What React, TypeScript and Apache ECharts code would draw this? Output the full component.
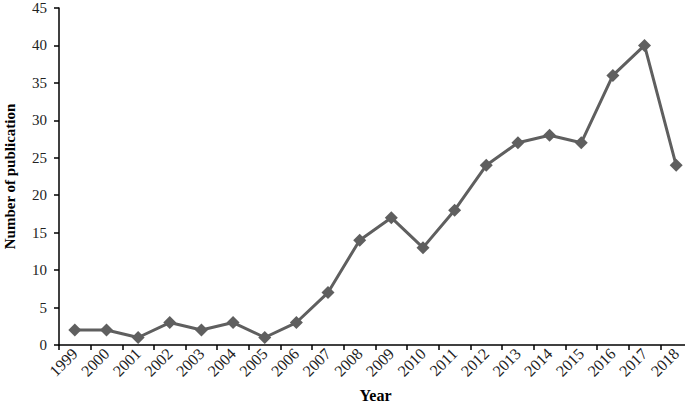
import React, { useEffect, useRef } from "react";
import * as echarts from "echarts";

const years = ["1999","2000","2001","2002","2003","2004","2005","2006","2007","2008","2009","2010","2011","2012","2013","2014","2015","2016","2017","2018"];
const publications = [2, 2, 1, 3, 2, 3, 1, 3, 7, 14, 17, 13, 18, 24, 27, 28, 27, 36, 40, 24];

const serif = "'Liberation Serif', 'DejaVu Serif', serif";

export default function App() {
  const ref = useRef<HTMLDivElement>(null);
  useEffect(() => {
    const chart = echarts.init(ref.current!, null, { renderer: "svg" });
    chart.setOption({
      animation: false,
      grid: { left: 59, right: -7, top: 8, bottom: 61, outerBoundsMode: "none", containLabel: false },
      xAxis: {
        type: "category",
        data: years,
        boundaryGap: true,
        name: "Year",
        nameLocation: "middle",
        nameGap: 42,
        nameTextStyle: { fontFamily: serif, fontWeight: "bold", fontSize: 16, color: "#000" },
        axisLine: { lineStyle: { color: "#000", width: 1.5 } },
        axisTick: { show: true, length: 5, alignWithLabel: false, lineStyle: { color: "#000", width: 1.5 } },
        axisLabel: { rotate: 45, fontFamily: serif, fontSize: 16, color: "#222", margin: 6, interval: 0 },
      },
      yAxis: {
        type: "value",
        min: 0,
        max: 45,
        interval: 5,
        name: "Number of publication",
        nameLocation: "middle",
        nameGap: 42,
        nameTextStyle: { fontFamily: serif, fontWeight: "bold", fontSize: 15, color: "#000" },
        axisLine: { show: true, lineStyle: { color: "#000", width: 1.5 } },
        axisTick: { show: true, length: 5, lineStyle: { color: "#000", width: 1.5 } },
        axisLabel: { fontFamily: serif, fontSize: 15, color: "#222", margin: 12 },
        splitLine: { show: false },
      },
      series: [
        {
          type: "line",
          data: publications,
          symbol: "diamond",
          symbolSize: 13,
          lineStyle: { color: "#5f5f5f", width: 3 },
          itemStyle: { color: "#5f5f5f" },
        },
      ],
    });
    return () => chart.dispose();
  }, []);
  return (
    <div style={{ position: "fixed", left: 0, top: 0, width: 685, height: 406, background: "#fff" }}>
      <div ref={ref} style={{ width: 685, height: 406 }} />
    </div>
  );
}
